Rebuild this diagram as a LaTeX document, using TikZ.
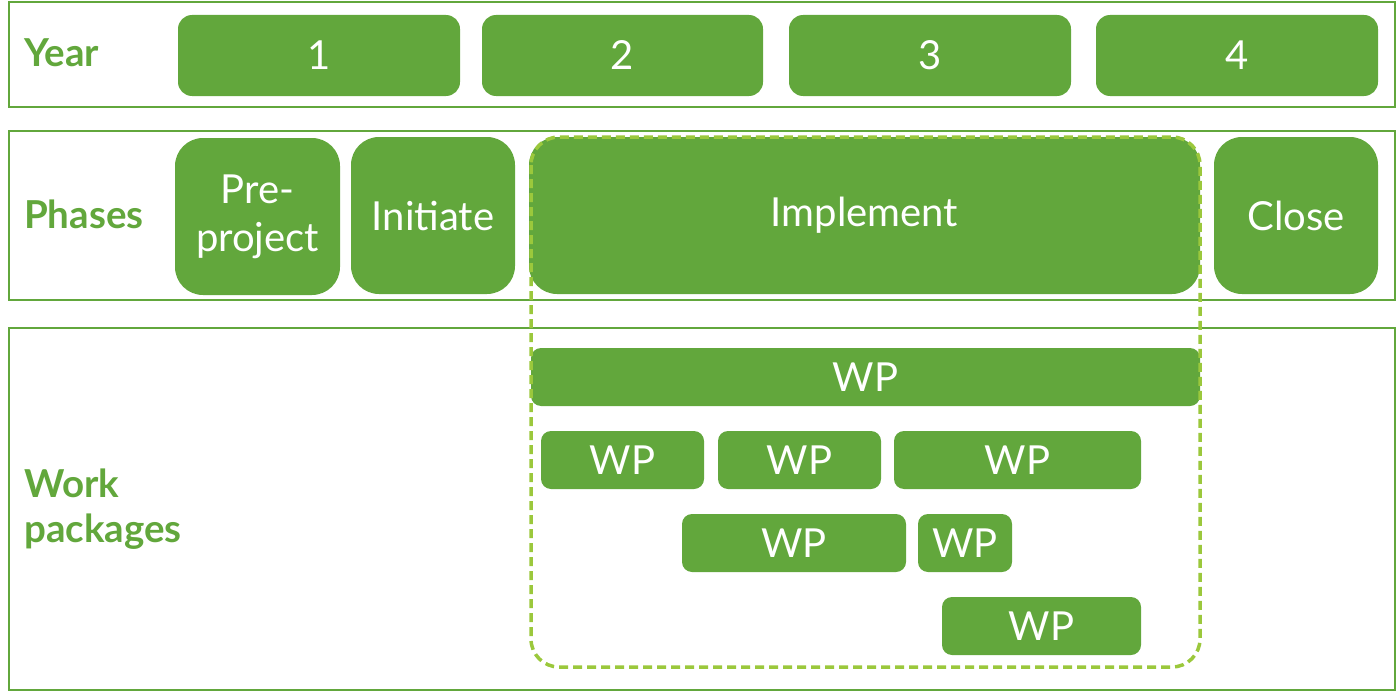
\documentclass[tikz,border=0pt]{standalone}
\usepackage{fontspec}
\setmainfont{Lato}
\definecolor{dgreen}{HTML}{62A73C}
\definecolor{lgreen}{HTML}{9BC83C}
\tikzset{
  frame/.style={draw=dgreen, line width=2.5pt},
  gbox/.style={fill=dgreen, draw=none, text=white, inner sep=0pt, align=center},
  yearbox/.style={gbox, rounded corners=14pt, minimum height=81pt, font=\fontsize{40}{48}\selectfont},
  phasebox/.style={gbox, rounded corners=28pt, minimum height=157pt, font=\fontsize{40}{48}\selectfont},
  wpbox/.style={gbox, rounded corners=10pt, minimum height=58pt, font=\fontsize{40}{48}\selectfont},
  rowlabel/.style={anchor=west, text=dgreen, align=left, inner sep=0pt, font=\bfseries\fontsize{38.5}{45}\selectfont},
  dashframe/.style={draw=lgreen, line width=3.5pt, dash pattern=on 9pt off 5pt, rounded corners=28pt}
}
\begin{document}
\begin{tikzpicture}[x=1pt,y=-1pt]
\useasboundingbox (0,0) rectangle (1398,693);
% frames
\draw[frame] (9,2) rectangle (1395,107);
\draw[frame] (9,131) rectangle (1395,300);
\draw[frame] (9,328) rectangle (1395,690);
% labels
\node[rowlabel] (lyear) at (24,53) {Year};
\node[rowlabel] (lphase) at (24,214) {Phases};
\node[rowlabel] (lwp) at (24,509) {Work\\packages};
% year boxes
\node[yearbox, minimum width=282pt] (y1) at (319,55.5) {1};
\node[yearbox, minimum width=281pt] (y2) at (622.5,55.5) {2};
\node[yearbox, minimum width=282pt] (y3) at (930,55.5) {3};
\node[yearbox, minimum width=282pt] (y4) at (1237,55.5) {4};
% phases
\node[phasebox, minimum width=165pt] (pre) at (257.5,216.5) {Pre-\\project};
\node[phasebox, minimum width=164pt] (init) at (433,215.5) {Initiate};
\node[phasebox, minimum width=671pt] (impl) at (864.5,215.5) {Implement};
\node[phasebox, minimum width=164pt] (close) at (1296,215.5) {Close};
% work packages
\node[wpbox, minimum width=669pt] (wp0) at (865.5,377) {WP};
\node[wpbox, minimum width=163pt] (wp1) at (622.5,460) {WP};
\node[wpbox, minimum width=163pt] (wp2) at (799.5,460) {WP};
\node[wpbox, minimum width=247pt] (wp3) at (1017.5,460) {WP};
\node[wpbox, minimum width=224pt] (wp4) at (794,543) {WP};
\node[wpbox, minimum width=94pt] (wp5) at (965,543) {WP};
\node[wpbox, minimum width=199pt] (wp6) at (1041.5,626) {WP};
% dashed implement span
\draw[dashframe] (531,137) rectangle (1200,667);
\end{tikzpicture}
\end{document}
